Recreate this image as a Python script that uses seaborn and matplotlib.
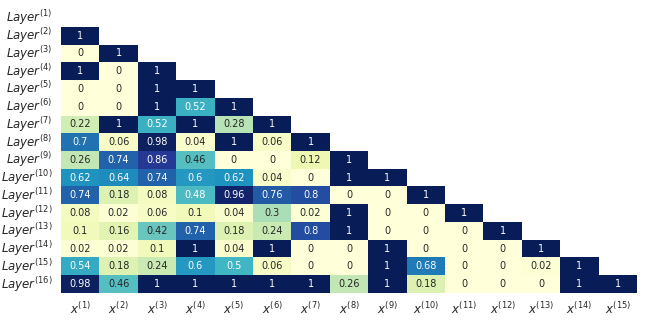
import numpy as np
import pandas as pd
import seaborn as sns
import matplotlib.pyplot as plt

# lower-triangular values, row i holds columns x(1)..x(i-1)
rows = [
    [],
    [1],
    [0, 1],
    [1, 0, 1],
    [0, 0, 1, 1],
    [0, 0, 1, 0.52, 1],
    [0.22, 1, 0.52, 1, 0.28, 1],
    [0.7, 0.06, 0.98, 0.04, 1, 0.06, 1],
    [0.26, 0.74, 0.86, 0.46, 0, 0, 0.12, 1],
    [0.62, 0.64, 0.74, 0.6, 0.62, 0.04, 0, 1, 1],
    [0.74, 0.18, 0.08, 0.48, 0.96, 0.76, 0.8, 0, 0, 1],
    [0.08, 0.02, 0.06, 0.1, 0.04, 0.3, 0.02, 1, 0, 0, 1],
    [0.1, 0.16, 0.42, 0.74, 0.18, 0.24, 0.8, 1, 0, 0, 0, 1],
    [0.02, 0.02, 0.1, 1, 0.04, 1, 0, 0, 1, 0, 0, 0, 1],
    [0.54, 0.18, 0.24, 0.6, 0.5, 0.06, 0, 0, 1, 0.68, 0, 0, 0.02, 1],
    [0.98, 0.46, 1, 1, 1, 1, 1, 0.26, 1, 0.18, 0, 0, 0, 1, 1],
]
row_labels = [r'$Layer^{(%d)}$' % i for i in range(1, 17)]
col_labels = [r'$x^{(%d)}$' % i for i in range(1, 16)]

mat = np.full((16, 15), np.nan)
for i, r in enumerate(rows):
    mat[i, :len(r)] = r
df = pd.DataFrame(mat, index=row_labels, columns=col_labels)
mask = np.isnan(mat)

sns.set_theme(style='white')
fig = plt.figure(figsize=(6.47, 3.24), dpi=100)
ax = fig.add_axes([0.0943, 0.0957, 0.8902, 0.8765])
sns.heatmap(df, mask=mask, cmap='YlGnBu', vmin=0, vmax=1, annot=True, fmt='g',
            annot_kws={'fontsize': 7}, cbar=False, ax=ax)
ax.tick_params(length=0, labelsize=8.5, pad=6)
plt.setp(ax.get_yticklabels(), rotation=0)
plt.setp(ax.get_xticklabels(), rotation=0)
ax.set_xlabel('')
ax.set_ylabel('')
fig.savefig('out.png', dpi=100)
